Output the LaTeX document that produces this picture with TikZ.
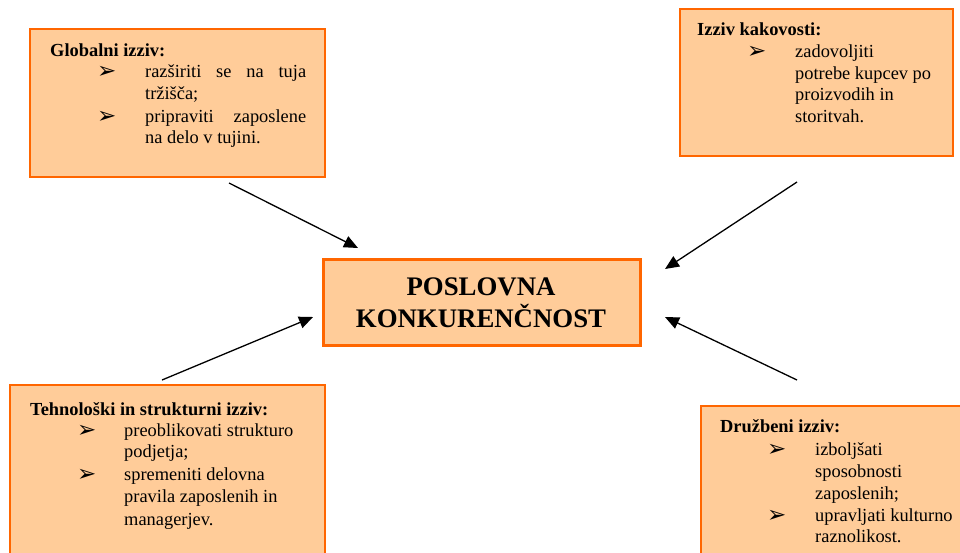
\documentclass[tikz,border=0pt]{standalone}
\usepackage{fontspec}
\setmainfont{Liberation Serif}
\newfontfamily\symfont{DejaVu Sans}
\usetikzlibrary{arrows.meta}

\definecolor{boxfill}{HTML}{FFCC99}
\definecolor{boxline}{HTML}{FF6600}

\tikzset{
  challenge/.style={draw=boxline, fill=boxfill, line width=1.5pt},
  centerbox/.style={draw=boxline, fill=boxfill, line width=3pt},
  txt/.style={anchor=base west, inner sep=0pt, font=\fontsize{18.4}{22}\selectfont},
  head/.style={txt, font=\fontsize{18.4}{22}\selectfont\bfseries},
  bul/.style={anchor=base west, inner sep=0pt, font=\symfont\fontsize{23}{26}\selectfont},
  title/.style={anchor=base, inner sep=0pt, font=\fontsize{26.8}{32}\selectfont\bfseries},
  pointer/.style={line width=1.3pt, -{Triangle[length=14pt,width=12pt]}}
}

\begin{document}
\begin{tikzpicture}[x=1pt, y=-1pt]
\clip (0,0) rectangle (960,552);
\fill[white] (0,0) rectangle (960,552);

% boxes
\draw[challenge] (30,29) rectangle (325,177);
\draw[challenge] (680,9) rectangle (953,156);
\draw[challenge] (10,385) rectangle (325,570);
\draw[challenge] (701,406) rectangle (970,570);
\draw[centerbox] (323,259) rectangle (640,345);

% centre
\node[title] (t1) at (481,295) {POSLOVNA};
\node[title] (t2) at (481,327) {KONKURENČNOST};

% global challenge
\node[head] (g0) at (50,56) {Globalni izziv:};
\node[bul] (gb1) at (97,78) {➢};
\node[txt] (g1) at (145,77) {\makebox[161pt][s]{razširiti se na tuja}};
\node[txt] (g2) at (145,99) {tržišča;};
\node[bul] (gb2) at (97,123) {➢};
\node[txt] (g3) at (145,122) {\makebox[161pt][s]{pripraviti zaposlene}};
\node[txt] (g4) at (145,143) {na delo v tujini.};

% quality challenge
\node[head] (q0) at (697,35) {Izziv kakovosti:};
\node[bul] (qb1) at (747,58) {➢};
\node[txt] (q1) at (795,57) {zadovoljiti};
\node[txt] (q2) at (795,79) {potrebe kupcev po};
\node[txt] (q3) at (795,100) {proizvodih in};
\node[txt] (q4) at (795,122) {storitvah.};

% technological challenge
\node[head] (s0) at (30,415) {Tehnološki in strukturni izziv:};
\node[bul] (sb1) at (77,437) {➢};
\node[txt] (s1) at (124,436) {preoblikovati strukturo};
\node[txt] (s2) at (124,457) {podjetja;};
\node[bul] (sb2) at (77,481) {➢};
\node[txt] (s3) at (124,480) {spremeniti delovna};
\node[txt] (s4) at (124,502) {pravila zaposlenih in};
\node[txt] (s5) at (124,525) {managerjev.};

% social challenge
\node[head] (d0) at (720,432) {Družbeni izziv:};
\node[bul] (db1) at (767,456) {➢};
\node[txt] (d1) at (815,455) {izboljšati};
\node[txt] (d2) at (815,477) {sposobnosti};
\node[txt] (d3) at (815,499) {zaposlenih;};
\node[bul] (db2) at (767,522) {➢};
\node[txt] (d4) at (815,521) {upravljati kulturno};
\node[txt] (d5) at (815,542) {raznolikost.};

% arrows
\coordinate (a1s) at (229,183); \coordinate (a1e) at (358,248);
\coordinate (a2s) at (797,182); \coordinate (a2e) at (665,269);
\coordinate (a3s) at (162,380); \coordinate (a3e) at (313,317);
\coordinate (a4s) at (797,380); \coordinate (a4e) at (665,317);
\draw[pointer] (a1s) -- (a1e);
\draw[pointer] (a2s) -- (a2e);
\draw[pointer] (a3s) -- (a3e);
\draw[pointer] (a4s) -- (a4e);
\end{tikzpicture}
\end{document}
